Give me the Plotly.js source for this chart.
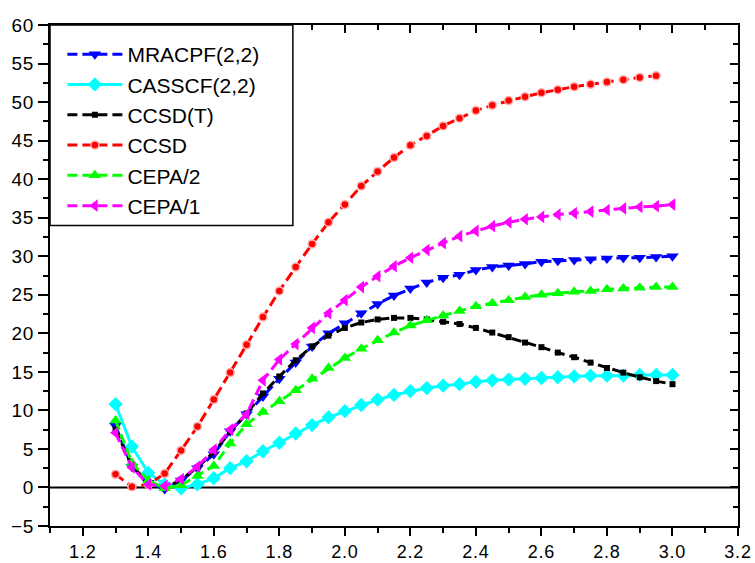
<!DOCTYPE html>
<html>
<head>
<meta charset="utf-8">
<script src="https://cdn.plot.ly/plotly-3.0.1.min.js"></script>
<style>
html,body{margin:0;padding:0;background:#fff;}
#chart{width:755px;height:563px;}
#chart .xtick text, #chart .ytick text{letter-spacing:0.8px;}
</style>
</head>
<body>
<div id="chart"></div>
<script>
// Bond distance grid (x) and energies for each method
const xFull = [1.30,1.35,1.40,1.45,1.50,1.55,1.60,1.65,1.70,1.75,1.80,1.85,1.90,1.95,2.00,2.05,2.10,2.15,2.20,2.25,2.30,2.35,2.40,2.45,2.50,2.55,2.60,2.65,2.70,2.75,2.80,2.85,2.90,2.95,3.00];
const xCCSD = [1.30,1.35,1.40,1.45,1.50,1.55,1.60,1.65,1.70,1.75,1.80,1.85,1.90,1.95,2.00,2.05,2.10,2.15,2.20,2.25,2.30,2.35,2.40,2.45,2.50,2.55,2.60,2.65,2.70,2.75,2.80,2.85,2.90,2.95];

const mracpf = [8.0,2.7,0.6,-0.2,0.9,2.5,4.3,7.3,9.5,11.8,14.1,16.2,18.3,20.0,21.3,22.6,23.8,24.9,25.8,26.6,27.2,27.6,28.2,28.6,28.8,29.0,29.3,29.4,29.5,29.6,29.7,29.8,29.8,29.9,30.0];
const casscf = [10.8,5.3,1.9,0.4,-0.1,0.4,1.2,2.5,3.4,4.7,5.8,7.0,8.1,9.1,9.9,10.7,11.4,12.0,12.5,12.9,13.2,13.4,13.7,13.9,14.0,14.1,14.2,14.3,14.4,14.5,14.5,14.5,14.6,14.6,14.6];
const ccsdt  = [7.5,2.8,0.6,-0.1,1.0,2.6,4.6,7.2,9.6,12.2,14.4,16.5,18.3,19.7,20.7,21.4,21.8,22.0,22.0,21.8,21.5,21.2,20.7,20.1,19.5,18.8,18.2,17.5,16.9,16.2,15.5,14.9,14.3,13.8,13.4];
const ccsd   = [1.7,0.1,0.4,1.8,4.8,7.9,11.4,14.9,18.5,22.1,25.5,28.6,31.6,34.4,36.7,39.1,41.0,42.8,44.4,45.6,46.9,47.9,48.9,49.6,50.2,50.7,51.2,51.6,52.0,52.3,52.6,52.9,53.2,53.4];
const cepa2  = [8.7,3.2,0.9,-0.1,0.3,1.5,2.8,5.7,8.2,9.8,11.2,12.6,14.1,15.5,16.8,18.0,19.1,20.1,21.0,21.7,22.3,22.9,23.5,23.9,24.3,24.7,25.0,25.2,25.4,25.5,25.7,25.8,25.9,26.0,26.0];
const cepa1  = [7.1,2.6,0.4,0.2,1.1,2.7,4.9,7.5,9.5,13.9,16.6,18.6,20.7,22.6,24.3,26.0,27.4,28.7,29.8,30.8,31.7,32.6,33.3,33.9,34.4,34.8,35.1,35.4,35.6,35.8,36.0,36.2,36.4,36.5,36.7];

const names = ['MRACPF(2,2)','CASSCF(2,2)','CCSD(T)','CCSD','CEPA/2','CEPA/1'];

const dashPat = '10px,5px';
function tr(x, y, name, color, symbol, size, dash, mline) {
  return {
    x: x, y: y, name: name, type: 'scatter', mode: 'lines+markers',
    line: {color: color, width: 3, dash: dash},
    marker: Object.assign({color: color, symbol: symbol, size: size}, mline || {}),
    hoverinfo: 'skip'
  };
}

const data = [
  tr(xFull, mracpf, names[0], '#0000ff', 'triangle-down', 11, dashPat),
  tr(xFull, casscf, names[1], '#00ffff', 'diamond', 11, 'solid'),
  tr(xFull, ccsdt,  names[2], '#000000', 'square', 6, dashPat),
  tr(xCCSD, ccsd,   names[3], '#ff0000', 'circle', 8, dashPat, {line: {color: '#ffb0b0', width: 1.5}}),
  tr(xFull, cepa2,  names[4], '#00ff00', 'triangle-up', 11, dashPat),
  tr(xFull, cepa1,  names[5], '#ff00ff', 'triangle-left', 11, dashPat),
  {x: [], y: [], xaxis: 'x2', yaxis: 'y2', showlegend: false, type: 'scatter', hoverinfo: 'skip'}
];

const fam = '"Liberation Sans", Arial, sans-serif';
const tickFont = {family: fam, size: 19, color: '#000'};
const baseX = {
  range: [1.1, 3.2], tick0: 1.2, dtick: 0.2, tickformat: '.1f',
  showline: true, linecolor: '#000', linewidth: 2, showgrid: false, zeroline: false,
  tickcolor: '#000', tickwidth: 2
};
const baseY = {
  range: [-5, 60], tick0: 0, dtick: 5,
  showline: true, linecolor: '#000', linewidth: 2, showgrid: false, zeroline: false,
  tickcolor: '#000', tickwidth: 2
};

const layout = {
  width: 755, height: 563,
  margin: {l: 50, r: 17, t: 25, b: 37},
  paper_bgcolor: '#fff', plot_bgcolor: '#fff',
  font: tickFont,
  showlegend: true,
  xaxis: Object.assign({}, baseX, {
    ticks: 'outside', ticklen: 8, tickfont: {family: fam, size: 18, color: '#000'},
    minor: {dtick: 0.1, tick0: 1.1, ticks: 'outside', ticklen: 5, tickwidth: 2, tickcolor: '#000'}
  }),
  yaxis: Object.assign({}, baseY, {
    ticks: 'outside', ticklen: 10, tickfont: tickFont,
    minor: {dtick: 2.5, tick0: 0, ticks: 'outside', ticklen: 5, tickwidth: 2, tickcolor: '#000'}
  }),
  xaxis2: Object.assign({}, baseX, {
    overlaying: 'x', side: 'top', anchor: 'y2', ticks: 'inside', ticklen: 8, showticklabels: false,
    minor: {dtick: 0.1, tick0: 1.1, ticks: 'inside', ticklen: 5, tickwidth: 2, tickcolor: '#000'}
  }),
  yaxis2: Object.assign({}, baseY, {
    overlaying: 'y', side: 'right', anchor: 'x2', ticks: 'inside', ticklen: 8, showticklabels: false,
    minor: {dtick: 2.5, tick0: 0, ticks: 'inside', ticklen: 5, tickwidth: 2, tickcolor: '#000'}
  }),
  shapes: [
    {type: 'line', xref: 'paper', x0: 0, x1: 1, yref: 'y', y0: 0, y1: 0, line: {color: '#000', width: 2}, layer: 'below'},
    {type: 'rect', xref: 'paper', yref: 'paper', x0: 0, x1: 0.353, y0: 0.6, y1: 1,
     line: {color: '#000', width: 1.5}, fillcolor: '#fff', layer: 'above'}
  ],
  legend: {
    x: 0.018, y: 0.982, xanchor: 'left', yanchor: 'top',
    bgcolor: 'rgba(0,0,0,0)', borderwidth: 0,
    font: {family: fam, size: 21, color: '#000'},
    itemwidth: 55, tracegroupgap: 0
  }
};

Plotly.newPlot('chart', data, layout, {displayModeBar: false, staticPlot: true});
</script>
</body>
</html>
